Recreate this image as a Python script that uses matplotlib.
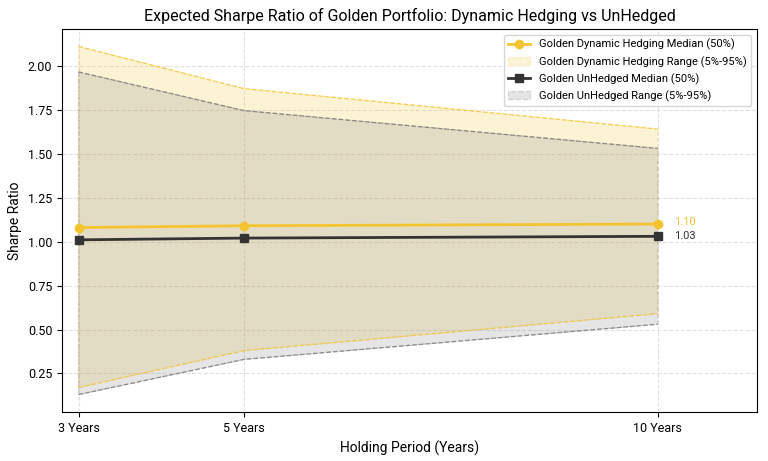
import matplotlib
matplotlib.use("Agg")
import matplotlib.pyplot as plt

plt.rcParams['font.family'] = ['Roboto', 'DejaVu Sans']

years = [3, 5, 10]
tick_labels = ["3 Years", "5 Years", "10 Years"]
golden_median = [1.08, 1.09, 1.10]
golden_p5 = [0.17, 0.38, 0.59]
golden_p95 = [2.11, 1.87, 1.64]
unhedged_median = [1.01, 1.02, 1.03]
unhedged_p5 = [0.13, 0.33, 0.53]
unhedged_p95 = [1.965, 1.745, 1.53]

gold = "#F4C430"
dark = "#333333"

fig, ax = plt.subplots(figsize=(7.68, 4.61), dpi=100)
fig.subplots_adjust(left=62/768, right=757/768, top=1-29/461, bottom=1-412/461)

ax.plot(years, golden_median, color=gold, marker='o', markersize=6, linewidth=2,
        label="Golden Dynamic Hedging Median (50%)", zorder=4)
ax.fill_between(years, golden_p5, golden_p95, facecolor=gold, alpha=0.2,
                edgecolor=gold, linestyle='--', linewidth=1,
                label="Golden Dynamic Hedging Range (5%-95%)", zorder=2)
ax.plot(years, golden_p5, color=gold, linestyle='--', linewidth=0.9, alpha=0.8, zorder=3)
ax.plot(years, golden_p95, color=gold, linestyle='--', linewidth=0.9, alpha=0.8, zorder=3)
ax.plot(years, unhedged_median, color=dark, marker='s', markersize=6, linewidth=2,
        label="Golden UnHedged Median (50%)", zorder=4)
ax.fill_between(years, unhedged_p5, unhedged_p95, facecolor="gray", alpha=0.2,
                edgecolor="#555555", linestyle='--', linewidth=1,
                label="Golden UnHedged Range (5%-95%)", zorder=2)
ax.plot(years, unhedged_p5, color="#777777", linestyle='--', linewidth=0.9, alpha=0.8, zorder=3)
ax.plot(years, unhedged_p95, color="#777777", linestyle='--', linewidth=0.9, alpha=0.8, zorder=3)

ax.text(years[-1] + 0.2, golden_median[-1] + 0.01, f"{golden_median[-1]:.2f}", color=gold,
        fontsize=8, va='center', ha='left')
ax.text(years[-1] + 0.2, unhedged_median[-1], f"{unhedged_median[-1]:.2f}", color=dark,
        fontsize=8, va='center', ha='left')

ax.set_xticks(years)
ax.set_xticklabels(tick_labels)
ax.set_xlim(2.8, 11.2)
ax.set_title("Expected Sharpe Ratio of Golden Portfolio: Dynamic Hedging vs UnHedged", fontsize=11.5)
ax.set_xlabel("Holding Period (Years)", fontsize=10)
ax.set_ylabel("Sharpe Ratio", fontsize=10)
ax.tick_params(labelsize=9)
ax.grid(True, linestyle='--', alpha=0.6, color='#cccccc')
ax.legend(loc='upper right', fontsize=8)

fig.savefig("out.png", dpi=100)
